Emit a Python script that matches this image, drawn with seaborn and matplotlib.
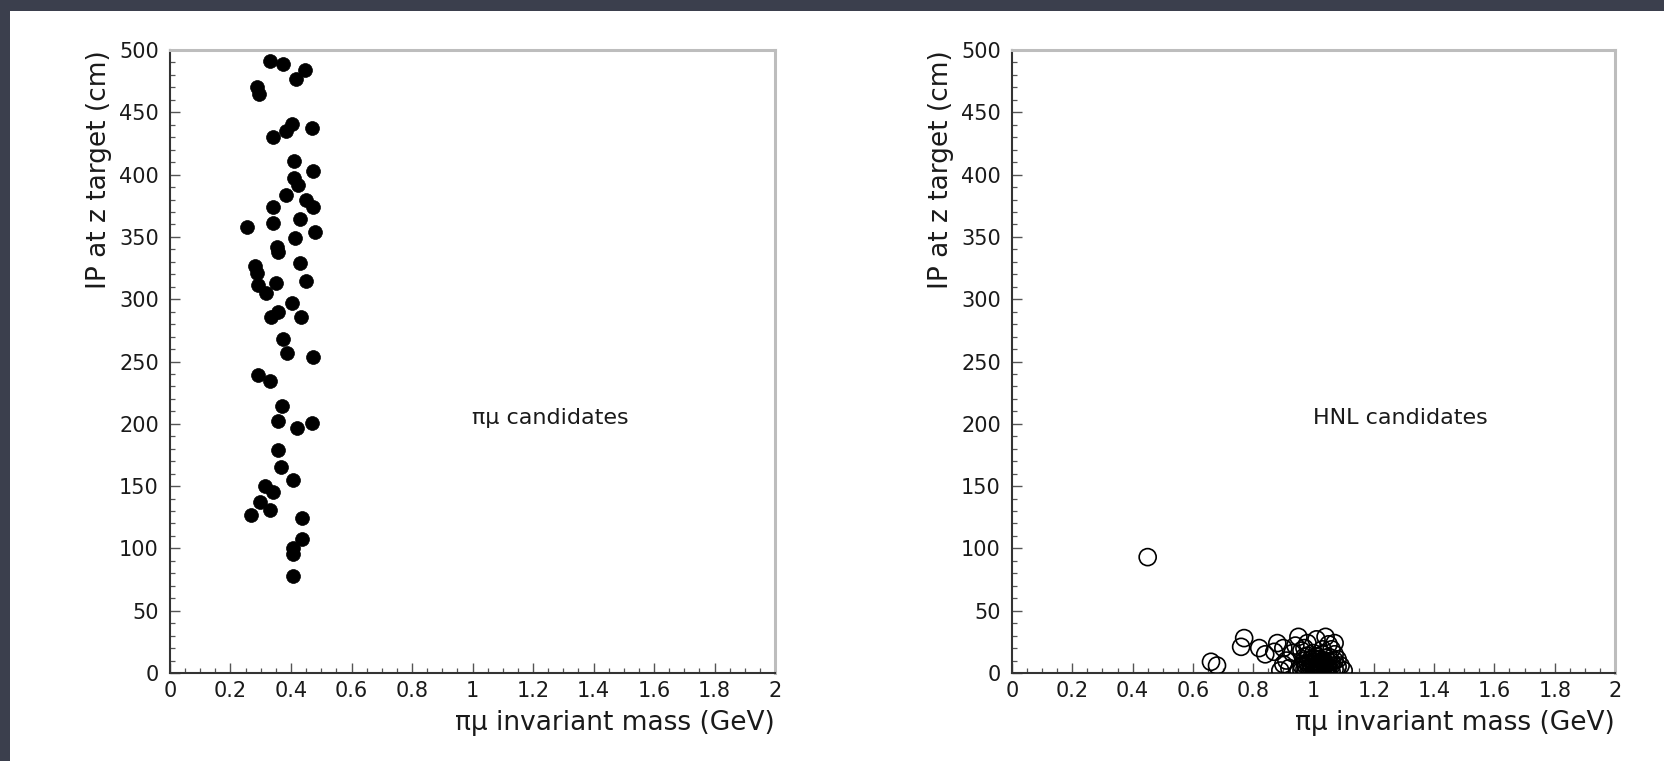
import numpy as np
import pandas as pd
import matplotlib
matplotlib.use("Agg")
import matplotlib.pyplot as plt
import seaborn as sns
from matplotlib.patches import Rectangle
from matplotlib.ticker import MultipleLocator, FixedLocator

# ---------------- data ----------------
pimu_mass = [0.331, 0.372, 0.446, 0.415, 0.289, 0.295, 0.402, 0.382, 0.468, 0.339,
             0.410, 0.474, 0.411, 0.424, 0.383, 0.448, 0.472, 0.342, 0.430, 0.253,
             0.342, 0.479, 0.413, 0.353, 0.358, 0.430, 0.281, 0.287, 0.450, 0.350,
             0.292, 0.317, 0.404, 0.356, 0.333, 0.432, 0.372, 0.386, 0.474, 0.292,
             0.331, 0.371, 0.358, 0.419, 0.468, 0.358, 0.367, 0.406, 0.314, 0.342,
             0.298, 0.267, 0.331, 0.435, 0.435, 0.406, 0.406, 0.408]
pimu_ip = [491, 489, 484, 477, 470, 465, 441, 435, 437, 430,
           411, 403, 397, 392, 384, 380, 374, 374, 364, 358,
           361, 354, 349, 342, 338, 329, 327, 321, 315, 313,
           311, 305, 297, 290, 286, 286, 268, 257, 254, 239,
           234, 214, 202.5, 197, 201, 179, 165, 155, 150, 145.5,
           137, 127, 131, 124, 107.5, 100, 95.5, 78]

hnl_mass = [0.45, 0.66, 0.68, 0.77, 0.76, 0.82, 0.84, 0.88, 0.87, 0.90,
            0.91, 0.92, 0.93, 0.95, 0.94, 0.96, 0.98, 1.01, 1.04, 1.05,
            1.06, 1.07, 1.08, 1.09, 1.10, 0.90, 1.03, 0.97, 0.89, 1.07,
            0.95, 0.96, 0.97, 0.97, 0.98, 0.98, 0.99, 0.99, 0.99, 1.00,
            1.00, 1.00, 1.00, 1.01, 1.01, 1.01, 1.01, 1.02, 1.02, 1.02,
            1.02, 1.03, 1.03, 1.03, 1.03, 1.04, 1.04, 1.04, 1.05, 1.05,
            1.06, 1.06, 1.07, 1.07, 1.08, 0.985, 1.005, 1.015, 1.025, 1.035,
            0.975, 1.045, 1.00, 1.01, 1.02, 0.99, 1.03, 1.04, 0.96, 1.05,
            0.97, 1.06]
hnl_ip = [93, 9, 6, 28, 21, 20, 15, 24, 17, 20,
          10, 4, 16, 29, 22, 18, 24, 27, 29, 23,
          19, 15, 11, 6, 2, 7, 19, 20, 2, 24,
          2, 6, 10, 3, 8, 14, 1, 5, 11, 3,
          7, 12, 16, 2, 5, 9, 13, 1, 4, 8,
          11, 3, 6, 10, 15, 2, 7, 12, 4, 9,
          1, 6, 3, 10, 5, 4, 1, 7, 2, 9,
          6, 5, 9, 11, 6, 8, 1, 4, 2, 13,
          13, 9]

x_ticks = [0, 0.2, 0.4, 0.6, 0.8, 1, 1.2, 1.4, 1.6, 1.8, 2]
x_ticklabels = ["0", "0.2", "0.4", "0.6", "0.8", "1", "1.2", "1.4", "1.6", "1.8", "2"]
y_ticks = [0, 50, 100, 150, 200, 250, 300, 350, 400, 450, 500]
x_label = "\u03c0\u03bc invariant mass (GeV)"
y_label = "IP at z target (cm)"
left_text = "\u03c0\u03bc candidates"
right_text = "HNL candidates"

df_left = pd.DataFrame({"mass": pimu_mass, "ip": pimu_ip})
df_right = pd.DataFrame({"mass": hnl_mass, "ip": hnl_ip})

# ---------------- style ----------------
sns.set_style("ticks")
plt.rcParams["font.family"] = ["DejaVu Sans"]

W, H = 1665, 761
fig = plt.figure(figsize=(W / 100, H / 100), dpi=100)
fig.patch.set_facecolor("#3b3f4d")
bg = Rectangle((10 / W, 0), 1 - 10 / W, (H - 11) / H,
               transform=fig.transFigure, facecolor="white",
               edgecolor="none", zorder=-10)
fig.patches.append(bg)

ax1 = fig.add_axes([170 / W, (H - 673) / H, 605 / W, 623 / H])
ax2 = fig.add_axes([1012 / W, (H - 673) / H, 603 / W, 623 / H])
ax1.set_zorder(5)
ax2.set_zorder(5)

sns.scatterplot(data=df_left, x="mass", y="ip", ax=ax1, color="black",
                s=100, edgecolor="black", linewidth=0.5, legend=False, zorder=3)
sns.scatterplot(data=df_right, x="mass", y="ip", ax=ax2, facecolor="none",
                edgecolor="black", s=150, linewidth=1.2, legend=False, zorder=3)

for ax, txt in ((ax1, left_text), (ax2, right_text)):
    ax.set_xlim(0, 2)
    ax.set_ylim(0, 500)
    ax.xaxis.set_major_locator(FixedLocator(x_ticks))
    ax.set_xticklabels(x_ticklabels)
    ax.yaxis.set_major_locator(FixedLocator(y_ticks))
    ax.xaxis.set_minor_locator(MultipleLocator(0.05))
    ax.yaxis.set_minor_locator(MultipleLocator(10))
    ax.tick_params(axis="both", which="both", bottom=True, left=True,
                   top=False, right=False, direction="in")
    ax.tick_params(axis="both", which="major", length=7,
                   width=1.0, color="#555555", labelsize=15, labelcolor="#1a1a1a")
    ax.tick_params(axis="both", which="minor", length=3.5,
                   width=0.9, color="#555555")
    ax.tick_params(axis="y", which="major", pad=8)
    ax.tick_params(axis="x", which="major", pad=6)
    for side in ("left", "bottom"):
        ax.spines[side].set_color("#333333")
        ax.spines[side].set_linewidth(1.5)
    for side in ("top", "right"):
        ax.spines[side].set_visible(True)
        ax.spines[side].set_color("#bdbdbd")
        ax.spines[side].set_linewidth(2.2)
    ax.set_xlabel(x_label, fontsize=19, loc="right", labelpad=6, color="#1a1a1a")
    ax.set_ylabel(y_label, fontsize=19, loc="top", labelpad=5, color="#1a1a1a")
    ax.text(1.0, 205, txt, fontsize=16, ha="left", va="center", color="#1a1a1a")
    ax.set_facecolor("white")

fig.savefig("out.png", dpi=100, facecolor=fig.get_facecolor())
